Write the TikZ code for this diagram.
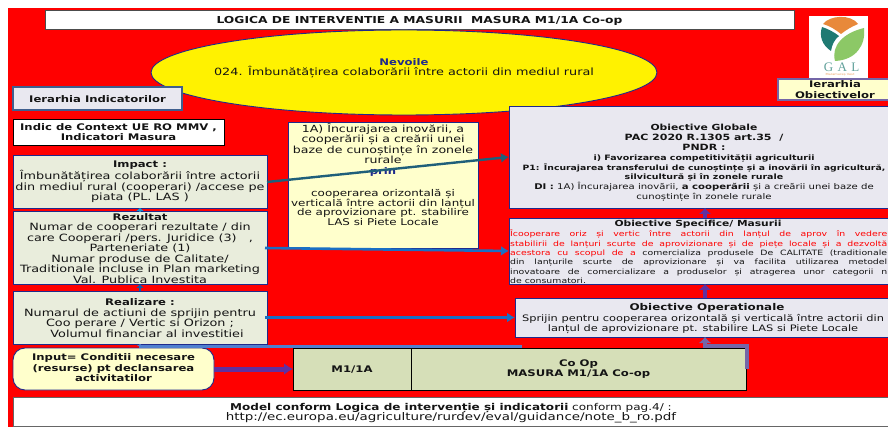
\documentclass[tikz,border=0pt]{standalone}
\usepackage{fontspec}
\setmainfont[FakeStretch=1.28]{DejaVu Sans}
\newfontfamily\serifgal{Liberation Serif}
\usetikzlibrary{arrows.meta}
\definecolor{navyb}{HTML}{1F2A8C}
\definecolor{olivebox}{HTML}{E9EDDC}
\definecolor{creambox}{HTML}{FFFFCC}
\definecolor{lilacbox}{HTML}{E9E8F0}
\definecolor{greenbox}{HTML}{D6DFB8}
\definecolor{steelb}{HTML}{3F5F8F}
\definecolor{bluearr}{HTML}{1A6FC4}
\definecolor{tealarr}{HTML}{1F5F7A}
\definecolor{purparr}{HTML}{6030A0}
\definecolor{greyp}{HTML}{7466A8}
\definecolor{lightb}{HTML}{4F7FCF}
\definecolor{txtn}{HTML}{141414}
\definecolor{logoo}{HTML}{E8893A}
\definecolor{logot}{HTML}{1F7A72}
\definecolor{logog}{HTML}{8CC866}
\newcommand{\just}[1]{\hbox to 377pt{#1}}
\newcommand{\B}[1]{{\fontsize{9.1}{10.5}\selectfont\bfseries #1}}
\newcommand{\FS}[2]{{\fontsize{#1}{10}\selectfont #2}}
\tikzset{
  x=1pt,y=-1pt,
  base/.style={font=\fontsize{10}{10.5}\selectfont,text=txtn,align=center,inner sep=0pt},
  txt/.style={base},
  barrow/.style={draw=bluearr,line width=2.6pt,-{Latex[length=8pt,width=10pt]}},
  parrow/.style={draw=purparr,line width=3.5pt,-{Latex[length=6pt,width=13pt]}},
  boxnavy/.style={draw=navyb,line width=0.9pt},
}
\begin{document}
\begin{tikzpicture}
\useasboundingbox (0,0) rectangle (888,427);
\fill[white] (0,0) rectangle (888,427);
\fill[red] (8,8) rectangle (888,427);
% title
\draw[black!70,fill=white,line width=0.9pt] (45,10) rectangle (794,29);
\node[txt] (title) at (419.5,20.5) {{\fontsize{9.6}{10.5}\selectfont\bfseries LOGICA DE INTERVENTIE A MASURII\ \ MASURA M1/1A Co-op}};
% ellipse
\draw[navyb,fill=yellow,line width=0.9pt] (404,72.5) ellipse [x radius=253,y radius=42.5];
\node[txt] (nev) at (404,68) {\textcolor{navyb}{\B{Nevoile}}\\024. Îmbunătățirea colaborării între actorii din mediul rural};
% indicators
\draw[steelb,fill=lilacbox,line width=2.2pt] (13,87) rectangle (182,110);
\node[txt] (ierind) at (97.5,99) {\B{Ierarhia Indicatorilor}};
\draw[black,fill=white,line width=0.9pt] (13,119) rectangle (224,145);
\node[txt] (indic) at (118.5,132) {\B{Indic de Context UE RO MMV ,}\\\B{Indicatori Masura}};
% left column
\draw[boxnavy,fill=olivebox] (13,155) rectangle (267,208);
\coordinate (impR) at (267,182); \coordinate (impB) at (140,208);
\node[txt] (imp) at (140,182) {\B{Impact :}\\Îmbunătățirea colaborării între actorii\\din mediul rural (cooperari) /accese pe\\piata (PL. LAS )};
\draw[boxnavy,fill=olivebox] (13,211.5) rectangle (267,284);
\coordinate (rezT) at (140,211.5); \coordinate (rezB) at (140,284); \coordinate (rezR) at (265,248);
\node[txt] (rez) at (140,248.5) {\B{Rezultat}\\Numar de cooperari rezultate / din\\care Cooperari /pers. Juridice (3)\ \ \ ,\\Parteneriate (1)\\Numar produse de Calitate/\\Traditionale incluse in Plan marketing\\Val. Publica Investita};
\draw[boxnavy,fill=olivebox] (13,291) rectangle (267,344);
\coordinate (reaT) at (140,291); \coordinate (reaB) at (140,344); \coordinate (reaR) at (265,317.5);
\node[txt] (rea) at (140,318) {\B{Realizare :}\\Numarul de actiuni de sprijin pentru\\Coo perare / Vertic si Orizon ;\\\hspace*{14pt}Volumul financiar al investitiei};
\draw[boxnavy,fill=creambox,rounded corners=12pt] (13,348) rectangle (214,390);
\coordinate (inpR) at (214,369);
\node[txt] (inp) at (113.5,368) {\B{Input= Conditii necesare}\\\B{(resurse) pt declansarea}\\\B{activitatilor}};
% M1/1A boxes
\draw[black,fill=greenbox,line width=0.9pt] (293,348) rectangle (411,390);
\coordinate (mL) at (293,369);
\node[txt] (m1) at (352,370) {\B{M1/1A}};
\draw[black,fill=greenbox,line width=0.9pt] (411,348) rectangle (746,390);
\coordinate (coR) at (746.5,369);
\node[txt] (coop) at (578.5,369) {\B{Co Op}\\\B{MASURA M1/1A Co-op}};
% yellow middle box
\draw[boxnavy,fill=creambox] (288,122) rectangle (478,248);
\node[txt,font=\fontsize{9.8}{10.5}\selectfont] (mid) at (383,149.5) {1A) Încurajarea inovării, a\\cooperării și a creării unei\\baze de cunoștințe în zonele\\rurale\\\textcolor{navyb}{\B{prin}}};
\node[txt,font=\fontsize{9.3}{9.8}\selectfont] (mid2) at (383,207.5) {cooperarea orizontală și\\verticală între actorii din lanțul\\de aprovizionare pt. stabilire\\LAS si Piete Locale};
% objective boxes
\draw[boxnavy,fill=lilacbox] (509,106) rectangle (889,208);
\coordinate (globL) at (509,157); \coordinate (globB) at (705,208);
\node[txt,font=\fontsize{9}{9.8}\selectfont] (glob) at (704,163) {\FS{8.4}{\bfseries Obiective Globale}\\\FS{8.6}{\bfseries PAC 2020 R.1305 art.35\ \ /}\\\FS{8.6}{\bfseries PNDR :}\\\FS{7.4}{\bfseries i) Favorizarea competitivității agriculturii}\\\FS{7.25}{\bfseries P1: Încurajarea transferului de cunoștințe și a inovării în agricultură,}\\\FS{7.4}{\bfseries silvicultură și în zonele rurale}\\\FS{7.9}{\textbf{DI :} 1A) Încurajarea inovării, \textbf{a cooperării} și a creării unei baze de}\\\FS{7.9}{cunoștințe în zonele rurale}};
\draw[boxnavy,fill=lilacbox] (509,218) rectangle (889,284);
\coordinate (specL) at (509,251); \coordinate (specT) at (705,218); \coordinate (specB) at (705,284);
\node[txt] (spect) at (698,224.5) {\FS{8.35}{\bfseries Obiective Specifice/ Masurii}};
\node[txt,anchor=north west,align=left,font=\fontsize{7.3}{9.3}\selectfont] (spec) at (510,230) {\just{\textcolor{red}{Îcooperare oriz și vertic între actorii din lanțul de aprov în vedere}}\\\just{\textcolor{red}{stabilirii de lanțuri scurte de aprovizionare și de piețe locale și a dezvoltă}}\\\just{\textcolor{red}{acestora cu scopul de a} comercializa produsele De CALITATE (traditionale}\\\just{din lanțurile scurte de aprovizionare și va facilita utilizarea metodel}\\\just{inovatoare de comercializare a produselor și atragerea unor categorii n}\\de consumatori.};
\draw[boxnavy,fill=lilacbox] (515,298) rectangle (889,337);
\coordinate (opL) at (515,317.5); \coordinate (opT) at (705,298); \coordinate (opB) at (705,337);
\node[txt] (opt) at (707,308) {\FS{9.3}{\bfseries Obiective Operationale}};
\node[txt,font=\fontsize{8.9}{9.6}\selectfont] (op) at (703,324) {Sprijin pentru cooperarea orizontală și verticală între actorii din\\lanțul de aprovizionare pt. stabilire LAS si Piete Locale};
% logo
\fill[white] (809,16) rectangle (868,78);
\fill[logoo] (823,24) .. controls (830,15) and (851,14) .. (858,24) .. controls (851,27) and (846,30) .. (841,34) .. controls (836,30) and (830,26) .. (823,24) -- cycle;
\fill[logot] (822,27) .. controls (828,29) and (834,32) .. (839,36) .. controls (834,40) and (832,45) .. (831,51) .. controls (822,45) and (819,36) .. (822,27) -- cycle;
\fill[logog] (864,28) .. controls (866,45) and (856,60) .. (835,61) .. controls (831,46) and (843,33) .. (864,28) -- cycle;
\node[font=\serifgal\fontsize{13}{13}\selectfont,text=logot!70,inner sep=0pt] (gal) at (841.5,67.5) {G\,\,A\,\,L};
\node[font=\fontsize{2.8}{3}\selectfont,text=logoo!80,inner sep=0pt] (galv) at (840,75) {Maramureș Vest};
\draw[greyp,fill=creambox,line width=1.4pt] (778,79) rectangle (889,100);
\node[txt] (ierob) at (835,89.5) {\B{Ierarhia}\\\B{Obiectivelor}};
% bottom
\draw[black!60,fill=white,line width=0.9pt] (13,397) rectangle (889,426.5);
\node[txt] (model) at (451,413) {\FS{9.4}{\textbf{Model conform Logica de intervenție și indicatorii} conform pag.4/ :}\\\FS{10.5}{http://ec.europa.eu/agriculture/rurdev/eval/guidance/note\_b\_ro.pdf}};
% connectors
\draw[tealarr,line width=2.4pt,-{Latex[length=8pt,width=10pt]}] (impR) -- (globL);
\draw[barrow] (rezR) -- (specL);
\draw[barrow] (reaR) -- (opL);
\draw[navyb!80!cyan,line width=1.8pt,-{Latex[length=4pt,width=8pt]}] (reaT) -- (rezB);
\draw[bluearr!70!cyan,line width=1.8pt,-{Latex[length=3pt,width=8pt]}] (rezT) -- (impB);
\draw[lightb,line width=2.4pt,-{Latex[length=2pt,width=7pt]}] (522,346.5) -- (140,346.5) -- (reaB);
\draw[purparr,line width=5pt,-{Latex[length=9pt,width=12pt]}] (inpR) -- (mL);
\draw[parrow] (specT) -- (globB);
\draw[parrow] (opT) -- (specB);
\draw[greyp,line width=4pt,-{Latex[length=6pt,width=13pt]}] (coR) -- (746.5,346) -- (705,346) -- (opB);
\end{tikzpicture}
\end{document}
